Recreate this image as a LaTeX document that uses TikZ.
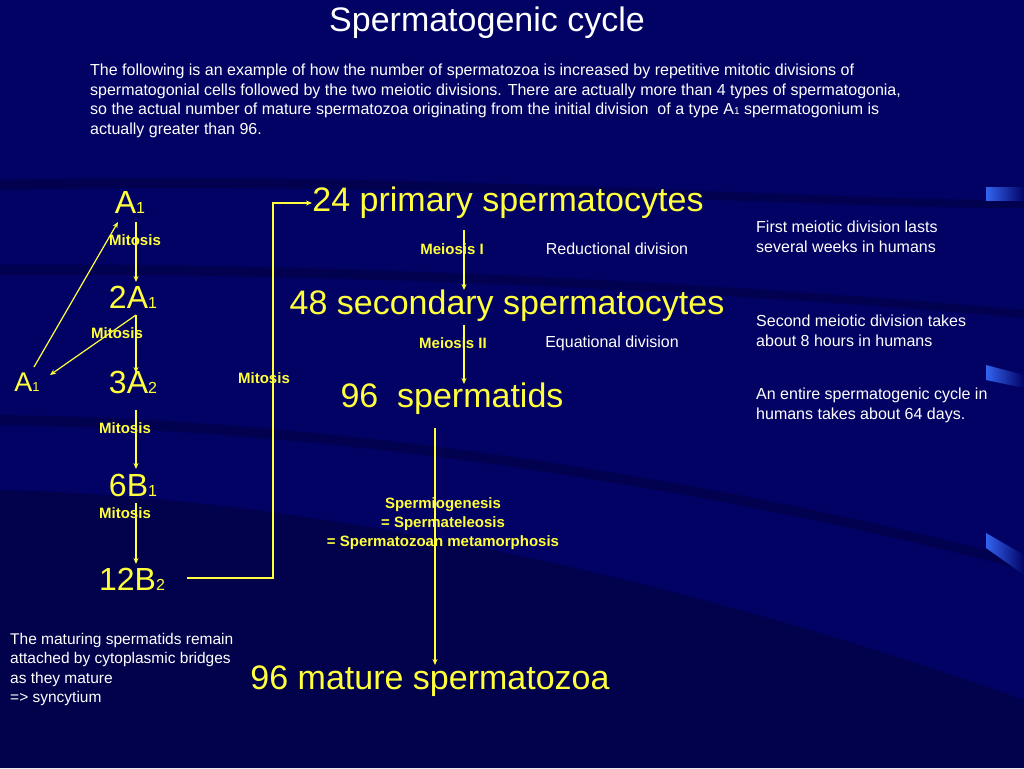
\documentclass[tikz,border=0pt]{standalone}
\usepackage{fontspec}
\setmainfont{Liberation Sans}
\usetikzlibrary{arrows.meta}
\definecolor{bg}{RGB}{2,2,100}
\definecolor{band}{RGB}{1,1,60}
\definecolor{ylw}{RGB}{255,255,60}
\definecolor{wedge}{RGB}{50,100,240}
\newcommand{\sbs}[1]{{\fontsize{16}{16}\selectfont #1}}
\tikzset{x=1pt,y=-1pt,
 big/.style={text=ylw,font=\fontsize{34}{36}\selectfont,inner sep=0},
 mid/.style={text=ylw,font=\fontsize{32}{34}\selectfont,inner sep=0},
 lbl/.style={text=ylw,font=\bfseries\fontsize{15}{18}\selectfont,inner sep=0,align=center},
 note/.style={text=white,font=\fontsize{16}{19.5}\selectfont,inner sep=0,align=left,anchor=north west},
 arr/.style={draw=ylw,line width=1.2pt,-{Stealth[length=6pt,width=5pt]}}}
\begin{document}
\begin{tikzpicture}
\useasboundingbox (0,0) rectangle (1024,768);
\fill[bg] (0,0) rectangle (1024,768);
\fill[band,opacity=0.5] (0,180) .. controls (400,170) and (800,200) .. (1024,200) -- (1024,208) .. controls (800,208) and (400,180) .. (0,190) -- cycle;
\fill[band,opacity=0.5] (0,265) .. controls (400,262) and (800,290) .. (1024,310) -- (1024,318) .. controls (800,298) and (400,272) .. (0,275) -- cycle;
\fill[band,opacity=0.5] (0,415) .. controls (400,420) and (800,500) .. (1024,560) -- (1024,570) .. controls (800,510) and (400,430) .. (0,425) -- cycle;
\fill[band,opacity=0.6] (0,490) .. controls (400,500) and (800,620) .. (1024,700) -- (1024,768) -- (0,768) -- cycle;
\shade[left color=wedge,right color=bg] (986,187) rectangle (1024,200);
\shade[left color=wedge,right color=bg] (986,365) -- (1024,375) -- (1024,388) -- (986,380) -- cycle;
\shade[left color=wedge,right color=bg] (986,533) -- (1024,555) -- (1024,575) -- (986,548) -- cycle;

\node[text=white,font=\fontsize{34}{36}\selectfont,inner sep=0] (title) at (487,23) {Spermatogenic cycle};
\node[note] (intro) at (90,64) {The following is an example of how the number of spermatozoa is increased by repetitive mitotic divisions of\\spermatogonial cells followed by the two meiotic divisions. There are actually more than 4 types of spermatogonia,\\so the actual number of mature spermatozoa originating from the initial division\ \ of a type A{\fontsize{10}{10}\selectfont 1} spermatogonium is\\actually greater than 96.};

\node[mid] (a1) at (130,202) {A\sbs{1}};
\node[mid] (a2) at (133,297) {2A\sbs{1}};
\node[mid] (a3) at (133,382) {3A\sbs{2}};
\node[mid] (b1) at (133,485) {6B\sbs{1}};
\node[mid] (b2) at (132,579) {12B\sbs{2}};
\node[mid,font=\fontsize{27}{28}\selectfont] (a0) at (27,382) {A{\fontsize{13}{13}\selectfont 1}};

\node[lbl] (m1) at (135,240) {Mitosis};
\node[lbl] (m2) at (117,333) {Mitosis};
\node[lbl] (m3) at (125,428) {Mitosis};
\node[lbl] (m4) at (125,513) {Mitosis};
\node[lbl] (m5) at (264,378) {Mitosis};

\coordinate (t1) at (136,222); \coordinate (h1) at (136,282);
\coordinate (t2) at (136,315); \coordinate (h2) at (136,373);
\coordinate (t3) at (136,410); \coordinate (h3) at (136,469);
\coordinate (t4) at (136,503); \coordinate (h4) at (136,564);
\draw[arr] (t1) -- (h1);
\draw[arr] (t2) -- (h2);
\draw[arr] (t3) -- (h3);
\draw[arr] (t4) -- (h4);
\coordinate (l1) at (34,367); \coordinate (l2) at (118,222);
\draw[arr] (l1) -- (l2);
\coordinate (l3) at (50,375);
\draw[arr] (t2) -- (l3);

\node[big] (s24) at (508,203) {24 primary spermatocytes};
\node[big] (s48) at (507,306) {48 secondary spermatocytes};
\node[big] (s96) at (452,399) {96\ \ spermatids};
\node[big] (sz) at (430,681) {96 mature spermatozoa};

\coordinate (bs) at (187,578); \coordinate (bc) at (273,578); \coordinate (bt) at (273,203);
\coordinate (be) at (312,203);
\draw[arr] (bs) -- (bc) -- (bt) -- (be);

\node[lbl] (mi1) at (452,249) {Meiosis I};
\node[lbl] (mi2) at (453,343) {Meiosis II};
\node[text=white,font=\fontsize{16}{18}\selectfont,inner sep=0] (rd) at (617,249) {Reductional division};
\node[text=white,font=\fontsize{16}{18}\selectfont,inner sep=0] (ed) at (612,343) {Equational division};
\coordinate (c1) at (464,230); \coordinate (d1) at (464,290);
\coordinate (c2) at (464,325); \coordinate (d2) at (464,384);
\coordinate (c3) at (435,428); \coordinate (d3) at (435,665);
\draw[arr] (c1) -- (d1);
\draw[arr] (c2) -- (d2);
\draw[arr] (c3) -- (d3);
\node[lbl,font=\bfseries\fontsize{15}{19}\selectfont] (sp) at (443,524) {Spermiogenesis\\= Spermateleosis\\= Spermatozoan metamorphosis};

\node[note] (n1) at (756,221) {First meiotic division lasts\\several weeks in humans};
\node[note] (n2) at (756,315) {Second meiotic division takes\\about 8 hours in humans};
\node[note] (n3) at (756,388) {An entire spermatogenic cycle in\\humans takes about 64 days.};
\node[note,font=\fontsize{15.5}{19.5}\selectfont] (n4) at (10,633) {The maturing spermatids remain\\attached by cytoplasmic bridges\\as they mature\\=> syncytium};
\end{tikzpicture}
\end{document}
